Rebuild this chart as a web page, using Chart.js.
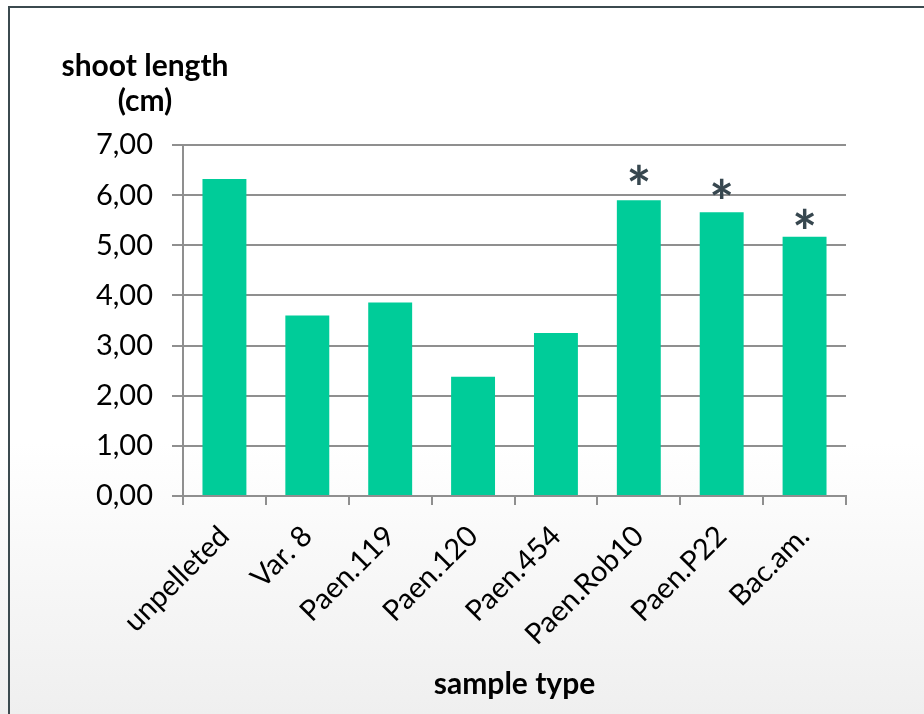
<!DOCTYPE html>
<html><head><meta charset="utf-8">
<script src="https://cdn.jsdelivr.net/npm/chart.js@4/dist/chart.umd.min.js"></script>
<style>html,body{margin:0;padding:0;background:#fff;}canvas{display:block;}</style>
</head><body>
<canvas id="c" width="924" height="714"></canvas>
<script>
const categories = ['unpelleted', 'Var. 8', 'Paen.119', 'Paen.120', 'Paen.454', 'Paen.Rob10', 'Paen.P22', 'Bac.am.'];
const shootLength = [6.32, 3.60, 3.86, 2.38, 3.25, 5.90, 5.66, 5.17];
const significance = ['', '', '', '', '', '*', '*', '*'];
const significanceLevel = [null, null, null, null, null, 6.42, 6.14, 5.53];
const yMin = 0, yMax = 7, yStep = 1;
const yTitleLines = ['shoot length', '(cm)'];
const xTitle = 'sample type';

const FONT = 'Lato, "Open Sans", sans-serif';

const backgroundPlugin = {
  id: 'bg',
  beforeDraw(chart) {
    const ctx = chart.ctx, w = chart.width, h = chart.height;
    ctx.save();
    const g = ctx.createLinearGradient(0, 0, 0, h);
    g.addColorStop(0, '#ffffff');
    g.addColorStop(0.62, '#ffffff');
    g.addColorStop(1, '#efefef');
    ctx.fillStyle = g;
    ctx.fillRect(0, 0, w, h);
    ctx.fillStyle = '#3b4a4f';
    ctx.fillRect(8, 6, w - 8, 2);
    ctx.fillRect(8, 6, 2, h - 6);
    ctx.restore();
  }
};

const annotationPlugin = {
  id: 'annot',
  afterDatasetsDraw(chart) {
    const ctx = chart.ctx;
    const xs = chart.scales.x, ys = chart.scales.y;
    ctx.save();
    ctx.fillStyle = '#37474f';
    ctx.textAlign = 'center';
    ctx.textBaseline = 'alphabetic';
    significance.forEach((s, i) => {
      if (!s || significanceLevel[i] == null) return;
      ctx.font = 'bold 40px ' + FONT;
      let m = ctx.measureText(s);
      const wGlyph = m.actualBoundingBoxLeft + m.actualBoundingBoxRight;
      const size = 40 * 19 / (wGlyph || 19);
      ctx.font = 'bold ' + size + 'px ' + FONT;
      m = ctx.measureText(s);
      const cy = ys.getPixelForValue(significanceLevel[i]);
      const baseline = cy + (m.actualBoundingBoxAscent - m.actualBoundingBoxDescent) / 2;
      ctx.fillText(s, xs.getPixelForValue(i), baseline);
    });
    // y-axis title (horizontal, above the axis)
    ctx.fillStyle = '#000';
    ctx.textBaseline = 'middle';
    ctx.font = 'bold 30px ' + FONT;
    const cx = chart.chartArea.left - 38;
    ctx.fillText(yTitleLines[0], cx, 66);
    ctx.fillText(yTitleLines[1], cx, 101);
    ctx.restore();
  }
};

new Chart(document.getElementById('c'), {
  type: 'bar',
  data: {
    labels: categories,
    datasets: [{
      data: shootLength,
      backgroundColor: '#00cc99',
      borderWidth: 0,
      barPercentage: 0.53,
      categoryPercentage: 1.0
    }]
  },
  options: {
    responsive: false,
    animation: false,
    devicePixelRatio: 1,
    layout: { padding: { left: 0, right: 78, top: 145, bottom: 0 } },
    plugins: { legend: { display: false }, tooltip: { enabled: false } },
    scales: {
      x: {
        offset: true,
        grid: { display: true, drawOnChartArea: false, drawTicks: true, tickLength: 9, color: '#8f8f8f', lineWidth: 2, offset: true },
        border: { display: true, color: '#8f8f8f', width: 2 },
        ticks: { minRotation: 45, maxRotation: 45, color: '#000', font: { family: FONT, size: 29 }, padding: 14, autoSkip: false },
        title: { display: true, text: xTitle, color: '#000', font: { family: FONT, size: 30, weight: 'bold' }, padding: { top: 0, bottom: 12 } },
        afterFit(scale) { scale.height = 218; }
      },
      y: {
        min: yMin, max: yMax,
        grid: { color: '#8f8f8f', lineWidth: 2, tickLength: 11, drawTicks: true },
        border: { display: true, color: '#8f8f8f', width: 2 },
        ticks: {
          stepSize: yStep, color: '#000', padding: 19,
          font: { family: FONT, size: 29 },
          callback: v => v.toFixed(2).replace('.', ',')
        },
        afterFit(scale) { scale.width = 183; }
      }
    }
  },
  plugins: [backgroundPlugin, annotationPlugin]
});
</script>
</body></html>
